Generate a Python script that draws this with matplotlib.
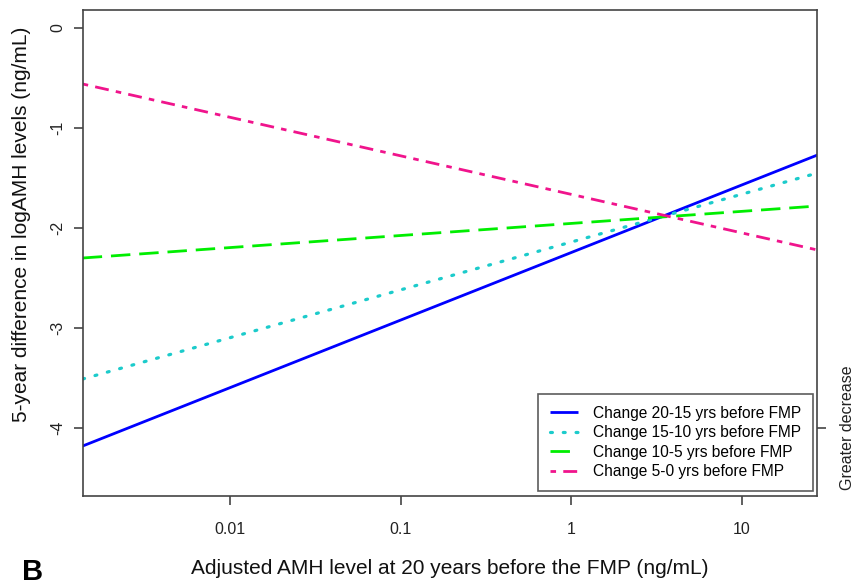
import matplotlib
matplotlib.use("Agg")
import matplotlib.pyplot as plt
from matplotlib.ticker import FixedLocator, NullLocator

plt.rcParams['font.family'] = ['Liberation Sans', 'DejaVu Sans']

# AMH range at 20 years before FMP (ng/mL), ends of the fitted lines
amh_range = [0.001365, 27.7]

# fitted 5-year change in log AMH at each end of the range
change_20_15 = [-4.18, -1.27]
change_15_10 = [-3.51, -1.45]
change_10_5 = [-2.30, -1.78]
change_5_0 = [-0.56, -2.22]

series_labels = [
    "Change 20-15 yrs before FMP",
    "Change 15-10 yrs before FMP",
    "Change 10-5 yrs before FMP",
    "Change 5-0 yrs before FMP",
]

x_ticks = [0.01, 0.1, 1, 10]
x_tick_labels = ["0.01", "0.1", "1", "10"]
y_ticks = [0, -1, -2, -3, -4]
y_tick_labels = ["0", "-1", "-2", "-3", "-4"]

W, H = 856, 585
fig = plt.figure(figsize=(W / 100, H / 100), dpi=100)
ax = fig.add_axes([82.7 / W, 1 - 496 / H, (817.5 - 82.7) / W, (496 - 10) / H])

styles = [
    dict(color="#0000FF", linestyle="-", lw=2.0),
    dict(color="#1CCBCB", linestyle=(0, (0.6, 3.4)), lw=2.3, dash_capstyle="round"),
    dict(color="#00EE00", linestyle=(0, (7.0, 3.2)), lw=2.0),
    dict(color="#F0148C", linestyle=(0, (2.0, 2.6, 5.0, 2.6)), lw=2.0),
]
for ys, lab, st in zip([change_20_15, change_15_10, change_10_5, change_5_0],
                       series_labels, styles):
    ax.plot(amh_range, ys, label=lab, solid_capstyle="butt", **st)

ax.set_xscale("log")
ax.set_xlim(amh_range)
ax.set_ylim(-4.68, 0.18)

ax.xaxis.set_major_locator(FixedLocator(x_ticks))
ax.xaxis.set_minor_locator(NullLocator())
ax.set_xticklabels(x_tick_labels)
ax.set_yticks(y_ticks)
ax.set_yticklabels(y_tick_labels, rotation=90, va="center")

axis_col = "#444444"
for sp in ax.spines.values():
    sp.set_color(axis_col)
    sp.set_linewidth(1.2)
ax.tick_params(axis="both", direction="out", length=6.5, width=1.2, color=axis_col,
               labelsize=11.5, labelcolor="#222222")
ax.tick_params(axis="x", pad=12)
ax.tick_params(axis="y", pad=6)

ax.set_xlabel("Adjusted AMH level at 20 years before the FMP (ng/mL)",
              fontsize=15, color="#111111", va="center", ha="center")
ax.xaxis.set_label_coords(0.5, (496 - 568) / 486)
ax.set_ylabel("5-year difference in logAMH levels (ng/mL)",
              fontsize=15, color="#111111", va="center", ha="center")
ax.yaxis.set_label_coords((22 - 82.7) / 734.8, (496 - 224) / 486)

# right-hand marker for the direction of change
ax2 = ax.twinx()
ax2.set_ylim(ax.get_ylim())
ax2.set_yticks([-4])
ax2.set_yticklabels(["Greater decrease"], rotation=90, va="center")
ax2.tick_params(axis="y", direction="out", length=6.5, width=1.2, color=axis_col,
                labelsize=11.5, labelcolor="#222222", pad=10)
for sp in ax2.spines.values():
    sp.set_visible(False)

leg = ax.legend(loc="lower right", bbox_to_anchor=(0.9935, 0.011), fontsize=11.2,
                frameon=True, fancybox=False, handlelength=1.8, handletextpad=0.95,
                borderpad=0.75, labelspacing=0.28, borderaxespad=0.0)
leg.get_frame().set_edgecolor("#333333")
leg.get_frame().set_linewidth(1.2)

fig.text(22 / W, 1 - 572 / H, "B", fontsize=21, fontweight="bold", va="center", ha="left")

fig.savefig("out.png", dpi=100)
